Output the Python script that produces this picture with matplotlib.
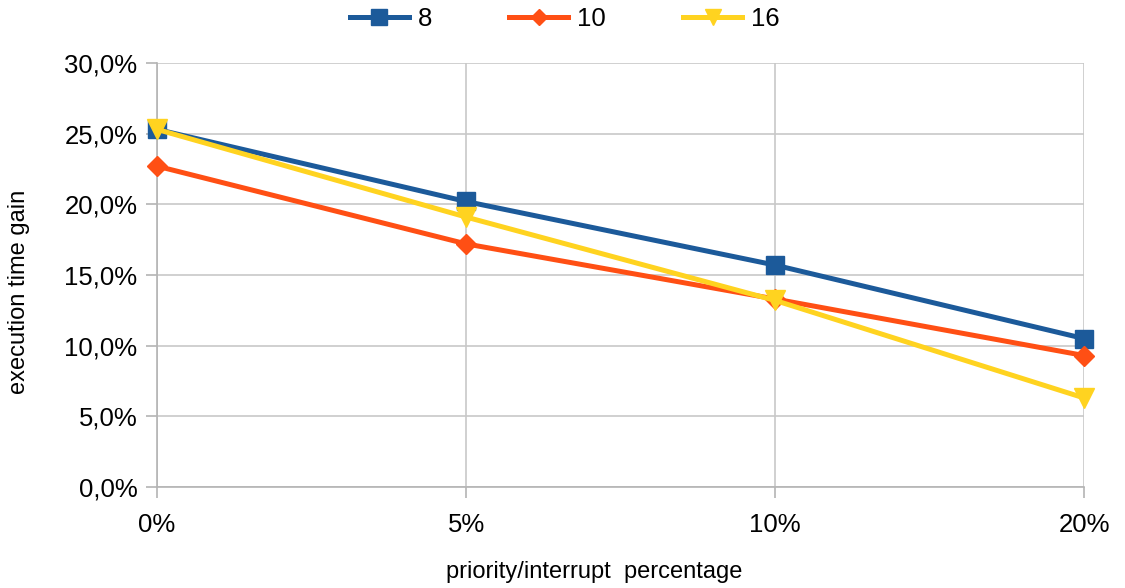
import matplotlib
matplotlib.use("Agg")
import matplotlib.pyplot as plt
from matplotlib.ticker import FuncFormatter

plt.rcParams["font.family"] = ["Liberation Sans", "DejaVu Sans"]

# priority/interrupt share on the x axis, gain per task count
categories = ["0%", "5%", "10%", "20%"]
gain_8 = [25.3, 20.2, 15.7, 10.5]
gain_10 = [22.7, 17.2, 13.3, 9.3]
gain_16 = [25.3, 19.1, 13.2, 6.3]

series = [
    ("8", gain_8, "#1c5a9a", "s", 13),
    ("10", gain_10, "#ff4f14", "D", 10),
    ("16", gain_16, "#ffd320", "v", 14),
]

fig = plt.figure(figsize=(11.25, 5.88), dpi=100)
ax = fig.add_axes([0.1396, 0.1718, 0.824, 0.7211])

x = range(len(categories))
for name, vals, col, mk, ms in series:
    ax.plot(x, vals, color=col, lw=3.6, marker=mk, markersize=ms,
            label=name, clip_on=False, zorder=3)

ax.set_xlim(0, len(categories) - 1)
ax.set_ylim(0, 30)
ax.set_yticks([0, 5, 10, 15, 20, 25, 30])
ax.yaxis.set_major_formatter(FuncFormatter(lambda v, p: f"{v:.1f}%".replace(".", ",")))
ax.set_xticks(list(x))
ax.set_xticklabels(categories)

ax.grid(True, color="#c8c8c8", lw=1.2)
ax.set_axisbelow(True)
for s in ["top", "right"]:
    ax.spines[s].set_visible(False)
for s in ["left", "bottom"]:
    ax.spines[s].set_color("#b4b4b4")
    ax.spines[s].set_linewidth(1.2)
ax.tick_params(axis="both", colors="#b4b4b4", length=8, width=1.2,
               labelcolor="black", labelsize=18.5)
ax.tick_params(axis="y", pad=6)
ax.tick_params(axis="x", pad=11)

ax.set_xlabel("priority/interrupt  percentage", fontsize=17)
ax.set_ylabel("execution time gain", fontsize=17)
ax.xaxis.set_label_coords(0.472, -0.175)
ax.yaxis.set_label_coords(-0.137, 0.46)

ax.legend(loc="lower center", bbox_to_anchor=(0.44, 1.02), ncol=3, frameon=False,
          fontsize=18.5, handlelength=2.3, columnspacing=3.0, handletextpad=0.35,
          markerscale=0.85)

fig.savefig("out.png", dpi=100)
